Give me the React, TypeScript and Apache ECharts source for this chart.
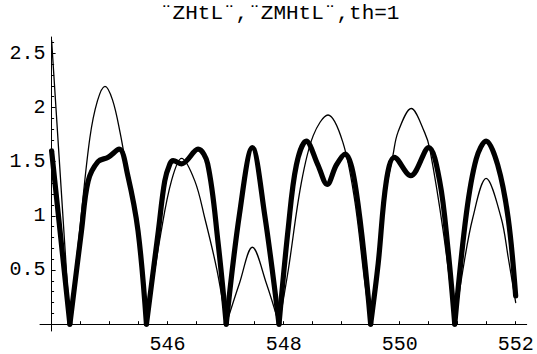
import React, { useEffect, useRef } from "react";
import * as echarts from "echarts";

const titleText = "¨ZHtL¨,¨ZMHtL¨,th=1";

const xLabelValues = [546, 548, 550, 552];
const xTickValues = [544.5, 545, 545.5, 546, 546.5, 547, 547.5, 548, 548.5, 549, 549.5, 550, 550.5, 551, 551.5, 552];
const yLabelValues = [0.5, 1, 1.5, 2, 2.5];
const yMinorValues = [0.1, 0.2, 0.3, 0.4, 0.6, 0.7, 0.8, 0.9, 1.1, 1.2, 1.3, 1.4, 1.6, 1.7, 1.8, 1.9, 2.1, 2.2, 2.3, 2.4, 2.6];

// thin curve |Z(t)|
const zCurve: [number, number][] = [
  [544.0, 2.62], [544.315, 0],
  [544.5, 0.95], [544.66, 1.72], [544.79, 2.06], [544.92, 2.195], [545.05, 2.07], [545.18, 1.77], [545.31, 1.38], [545.49, 0.84], [545.635, 0],
  [545.89, 0.86], [546.065, 1.32], [546.24, 1.53], [546.47, 1.32], [546.64, 0.98], [546.85, 0.5], [547.01, 0],
  [547.24, 0.38], [547.46, 0.71], [547.7, 0.38], [547.92, 0],
  [548.08, 0.5], [548.3, 1.29], [548.51, 1.74], [548.765, 1.93], [549.02, 1.68], [549.22, 1.16], [549.4, 0.38], [549.5, 0],
  [549.63, 0.54], [549.77, 1.24], [549.885, 1.56], [549.97, 1.77], [550.2, 1.99], [550.43, 1.77], [550.52, 1.615], [550.75, 0.86], [550.95, 0],
  [551.09, 0.5], [551.26, 0.98], [551.49, 1.345], [551.75, 0.98], [551.87, 0.62], [552.0, 0.2],
];

// thick curve |ZM(t)|
const zmCurve: [number, number][] = [
  [544.0, 1.6], [544.315, 0],
  [544.515, 0.86], [544.63, 1.32], [544.8, 1.5], [544.975, 1.54], [545.165, 1.615], [545.31, 1.38], [545.49, 0.86], [545.635, 0],
  [545.84, 0.86], [545.95, 1.32], [546.04, 1.48], [546.095, 1.51], [546.24, 1.48], [546.525, 1.615], [546.69, 1.48], [546.87, 0.75], [547.01, 0],
  [547.24, 1.02], [547.46, 1.63], [547.67, 1.02], [547.92, 0],
  [548.08, 0.89], [548.22, 1.47], [548.39, 1.69], [548.59, 1.47], [548.75, 1.29], [548.91, 1.47], [549.06, 1.57], [549.25, 1.23], [549.5, 0],
  [549.63, 0.56], [549.77, 1.32], [549.91, 1.54], [550.19, 1.37], [550.5, 1.63], [550.69, 1.32], [550.83, 0.71], [550.95, 0],
  [551.15, 1.02], [551.32, 1.525], [551.49, 1.69], [551.69, 1.47], [551.87, 0.98], [552.0, 0.26],
];

function splitAtZeros(points: [number, number][]): [number, number][][] {
  const segs: [number, number][][] = [];
  let cur: [number, number][] = [];
  for (const p of points) {
    cur.push(p);
    if (p[1] === 0 && cur.length > 1) {
      segs.push(cur);
      cur = [p];
    }
  }
  if (cur.length > 1) segs.push(cur);
  return segs;
}

const FONT = "'Liberation Mono', 'DejaVu Sans Mono', monospace";

export default function App() {
  const ref = useRef<HTMLDivElement>(null);
  useEffect(() => {
    if (!ref.current) return;
    const chart = echarts.init(ref.current, undefined, { renderer: "svg" });
    const mk = (pts: [number, number][], width: number) =>
      splitAtZeros(pts).map((seg) => ({
        type: "line",
        data: seg,
        smooth: 0.35,
        symbol: "none",
        silent: true,
        clip: false,
        lineStyle: { color: "#000", width, cap: "round", join: "round" },
      }));
    const yOffset = -11.6;
    chart.setOption({
      animation: false,
      title: {
        text: titleText,
        left: 160,
        top: 3,
        padding: 0,
        textStyle: { fontFamily: FONT, fontSize: 21, fontWeight: "normal", color: "#000" },
      },
      grid: { left: 40, right: 10.3, top: 37, bottom: 16, containLabel: false },
      xAxis: {
        type: "value",
        min: 543.8,
        max: 552.19,
        axisLine: { show: true, onZero: true, lineStyle: { color: "#000", width: 1 } },
        axisTick: { show: true, inside: true, length: 3, customValues: xTickValues, lineStyle: { color: "#000" } },
        axisLabel: {
          show: true,
          customValues: xLabelValues,
          fontFamily: FONT,
          fontSize: 20,
          color: "#000",
          margin: 3,
        },
        splitLine: { show: false },
      },
      yAxis: [
        {
          type: "value",
          position: "left",
          min: -0.063,
          max: 2.65,
          offset: yOffset,
          axisLine: { show: true, onZero: false, lineStyle: { color: "#000", width: 1 } },
          axisTick: { show: true, inside: true, length: 4, customValues: yLabelValues, lineStyle: { color: "#000" } },
          axisLabel: {
            show: true,
            customValues: yLabelValues,
            fontFamily: FONT,
            fontSize: 20,
            color: "#000",
            margin: 6,
          },
          splitLine: { show: false },
        },
        {
          type: "value",
          position: "left",
          min: -0.063,
          max: 2.65,
          offset: yOffset,
          axisLine: { show: false, onZero: false },
          axisTick: { show: true, inside: true, length: 2.5, customValues: yMinorValues, lineStyle: { color: "#000" } },
          axisLabel: { show: false },
          splitLine: { show: false },
        },
      ],
      series: [...mk(zCurve, 1.3), ...mk(zmCurve, 5.2)],
    });
    return () => chart.dispose();
  }, []);
  return (
    <div
      ref={ref}
      style={{ position: "fixed", left: 0, top: 0, width: 537, height: 354, background: "#fff" }}
    />
  );
}
